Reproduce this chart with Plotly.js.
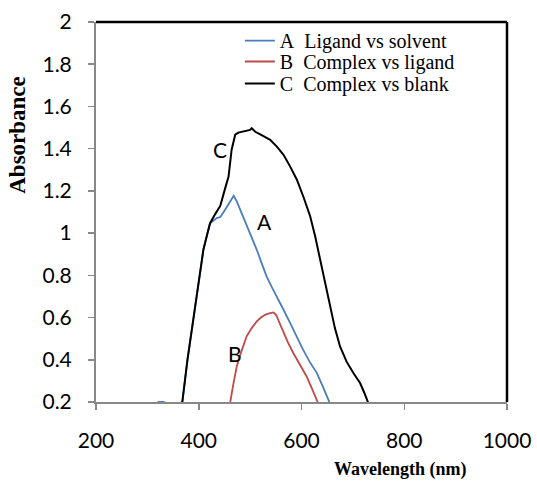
<!DOCTYPE html>
<html>
<head>
<meta charset="utf-8">
<script src="https://cdn.plot.ly/plotly-3.0.1.min.js"></script>
<style>html,body{margin:0;padding:0;background:#fff;}#chart{width:537px;height:481px;}</style>
</head>
<body>
<div id="chart"></div>
<script>
// Curve A: Ligand vs solvent
const waveA = [320, 332, 340, 360, 368, 378, 390, 400, 409, 416, 422, 435, 442, 451, 458, 463, 468, 474, 480, 487, 494, 500, 513, 522, 532, 542, 552, 565, 578, 590, 603, 616, 630, 642, 655, 665];
const absA  = [0.2, 0.2, 0.19, 0.19, 0.2, 0.4, 0.6, 0.77, 0.92, 0.99, 1.047, 1.071, 1.076, 1.11, 1.14, 1.162, 1.177, 1.15, 1.115, 1.079, 1.04, 1.0, 0.921, 0.86, 0.795, 0.745, 0.70, 0.637, 0.574, 0.51, 0.448, 0.39, 0.337, 0.27, 0.195, 0.15];

// Curve B: Complex vs ligand
const waveB = [455, 461, 467, 474, 483, 493, 503, 513, 521, 529, 537, 545, 549, 552, 558, 565, 574, 584, 597, 610, 621, 633, 640];
const absB  = [0.15, 0.195, 0.28, 0.369, 0.44, 0.51, 0.55, 0.582, 0.60, 0.613, 0.62, 0.624, 0.617, 0.605, 0.57, 0.527, 0.48, 0.432, 0.375, 0.321, 0.26, 0.195, 0.15];

// Curve C: Complex vs blank
const waveC = [360, 368, 378, 390, 400, 409, 416, 422, 432, 442, 450, 458, 464, 468, 471, 477, 484, 492, 500, 503, 506, 510, 518, 528, 539, 552, 565, 578, 591, 604, 617, 627, 636, 646, 655, 665, 675, 688, 701, 714, 722, 730, 740];
const absC  = [0.15, 0.2, 0.4, 0.605, 0.77, 0.921, 0.99, 1.047, 1.09, 1.13, 1.2, 1.268, 1.395, 1.445, 1.466, 1.476, 1.481, 1.485, 1.489, 1.497, 1.49, 1.48, 1.47, 1.458, 1.442, 1.41, 1.371, 1.315, 1.253, 1.17, 1.079, 0.98, 0.874, 0.765, 0.653, 0.55, 0.463, 0.39, 0.337, 0.29, 0.245, 0.195, 0.15];

const xTicks = [200, 400, 600, 800, 1000];
const yTicks = [0.2, 0.4, 0.6, 0.8, 1, 1.2, 1.4, 1.6, 1.8, 2];
const yTickText = ['0.2', '0.4', '0.6', '0.8', '1', '1.2', '1.4', '1.6', '1.8', '2'];

const names = ['A&#160;&#160;Ligand vs solvent', 'B&#160;&#160;Complex vs ligand', 'C&#160;&#160;Complex vs blank'];
const curveLabels = [
  {text: 'C', x: 442, y: 1.395},
  {text: 'A', x: 528, y: 1.055},
  {text: 'B', x: 471, y: 0.432}
];

const traces = [
  {x: waveA, y: absA, name: names[0], legend: 'legend', mode: 'lines', line: {color: '#4a7ebb', width: 1.8}},
  {x: waveB, y: absB, name: names[1], legend: 'legend2', mode: 'lines', line: {color: '#be4b48', width: 1.8}},
  {x: waveC, y: absC, name: names[2], legend: 'legend3', mode: 'lines', line: {color: '#000000', width: 2}}
];

const tickFont = {family: 'Lato, "Open Sans", sans-serif', size: 21, color: '#000'};
const serif = '"Liberation Serif", "Times New Roman", serif';

const annotations = curveLabels.map(l => ({
  x: l.x, y: l.y, xref: 'x', yref: 'y', text: l.text, showarrow: false,
  font: {family: 'Lato, "Open Sans", sans-serif', size: 21, color: '#000'}
}));
annotations.push({
  xref: 'paper', yref: 'paper', x: 0.74, y: -0.178, xanchor: 'center', yanchor: 'middle',
  text: '<b>Wavelength (nm)</b>', showarrow: false, font: {family: serif, size: 18, color: '#000'}
});
annotations.push({
  xref: 'paper', yref: 'paper', x: -0.19, y: 0.703, xanchor: 'center', yanchor: 'middle', textangle: -90,
  text: '<b>Absorbance</b>', showarrow: false, font: {family: serif, size: 23, color: '#000'}
});

function legendAt(yPaper) {
  return {x: 0.35, y: yPaper, xanchor: 'left', yanchor: 'middle', bgcolor: 'rgba(0,0,0,0)',
          font: {family: serif, size: 20, color: '#000'}};
}

const layout = {
  width: 537, height: 481,
  margin: {l: 96, r: 30, t: 22, b: 79},
  paper_bgcolor: '#fff', plot_bgcolor: '#fff',
  showlegend: true,
  legend: legendAt(0.951),
  legend2: legendAt(0.896),
  legend3: legendAt(0.838),
  xaxis: {range: [200, 1000], tickvals: xTicks, ticktext: xTicks.map(String), showgrid: false, zeroline: false,
          showline: true, linecolor: '#888', linewidth: 2, ticks: 'outside', ticklen: 6, tickcolor: '#888', tickwidth: 1.5,
          tickfont: tickFont, ticklabelstandoff: 13, layer: 'below traces'},
  yaxis: {range: [0.2, 2], tickvals: yTicks, ticktext: yTickText, showgrid: false, zeroline: false,
          showline: true, linecolor: '#888', linewidth: 2, ticks: 'outside', ticklen: 6, tickcolor: '#888', tickwidth: 1.5,
          tickfont: tickFont, ticklabelstandoff: 12, layer: 'below traces'},
  shapes: [
    {type: 'line', xref: 'paper', yref: 'paper', x0: 0, x1: 1, y0: 1, y1: 1, line: {color: '#000', width: 2.5}},
    {type: 'line', xref: 'paper', yref: 'paper', x0: 1, x1: 1, y0: 0, y1: 1, line: {color: '#000', width: 2.5}}
  ],
  annotations: annotations
};

Plotly.newPlot('chart', traces, layout, {displayModeBar: false, staticPlot: true});
</script>
</body>
</html>
